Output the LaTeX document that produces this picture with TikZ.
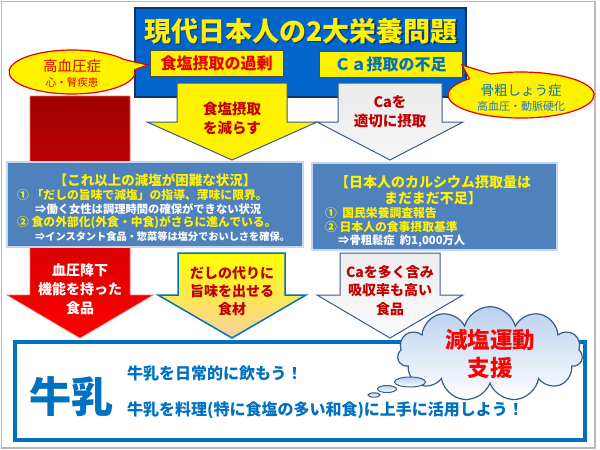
\documentclass[tikz,border=0pt]{standalone}
\usepackage{fontspec}
\setmainfont{Noto Sans CJK JP}
\usetikzlibrary{shapes.symbols}

\definecolor{titleblue}{RGB}{0,102,204}
\definecolor{navy}{RGB}{20,50,105}
\definecolor{edgeblue}{RGB}{56,93,138}
\definecolor{boxblue}{RGB}{79,129,189}
\definecolor{paleblue}{RGB}{198,214,236}
\definecolor{darkred}{RGB}{192,0,0}
\definecolor{txtred}{RGB}{230,0,0}
\definecolor{redtop}{RGB}{160,0,0}
\definecolor{milkblue}{RGB}{0,112,192}
\definecolor{lightblue}{RGB}{46,117,182}
\definecolor{peach}{RGB}{250,208,160}
\definecolor{cloudblue}{RGB}{185,208,238}

\begin{document}
\begin{tikzpicture}[x=1pt, y=-1pt,
  every node/.style={inner sep=0pt},
  arrowedge/.style={draw=edgeblue, line width=1pt, line join=miter},
  arrtxt/.style={font=\bfseries\fontsize{14.5}{19}\selectfont, align=center, text=darkred},
  subbox/.style={draw=gray!60!black, line width=1pt, fill=yellow, font=\bfseries\fontsize{16}{18}\selectfont},
  bluebox/.style={draw=paleblue, line width=1.5pt, fill=boxblue},
  boxhead/.style={font=\bfseries\fontsize{13.5}{16}\selectfont, text=yellow},
  boxitem/.style={anchor=west, font=\bfseries\fontsize{11.8}{14}\selectfont, text=yellow},
  boxnote/.style={anchor=west, font=\bfseries\fontsize{11.3}{14}\selectfont, text=white},
  milktxt/.style={anchor=west, font=\bfseries\fontsize{16}{18}\selectfont, text=milkblue},
  bubble/.style={draw=edgeblue, line width=1pt, top color=cloudblue, bottom color=white}]

  % frame
  \useasboundingbox (0,0) rectangle (600,450);
  \draw[gray!55, line width=1.2pt] (1.5,1.5) rectangle (595,448);

  % title box
  \draw[fill=titleblue, draw=navy, line width=1.5pt] (135,8) rectangle (466,97);
  \node[font=\bfseries\fontsize{27}{30}\selectfont, text=navy] at (302.5,32.5) {現代日本人の2大栄養問題};
  \node (title) [font=\bfseries\fontsize{27}{30}\selectfont, text=yellow] at (301,31) {現代日本人の2大栄養問題};
  \node (salt) [subbox, text=txtred, minimum width=133, minimum height=26] at (216.5,63) {食塩摂取の過剰};
  \node (calcium) [subbox, text=milkblue, minimum width=143, minimum height=26] at (390.5,64) {Ｃａ摂取の不足};

  % upper arrows
  \draw[arrowedge, fill=yellow] (177,83) -- (287,83) -- (287,122) -- (317,122) -- (232,160) -- (147,122) -- (177,122) -- cycle;
  \node (cutsalt) [arrtxt] at (232,118) {食塩摂取\\を減らす};
  \draw[arrowedge, top color=gray!16, bottom color=gray!8] (338,83) -- (442,83) -- (442,122) -- (463,122) -- (390,160) -- (317,122) -- (338,122) -- cycle;
  \node (getca) [arrtxt] at (390,112) {Caを\\適切に摂取};

  % callouts
  \draw[fill=yellow, draw=txtred, line width=1.2pt] (148,65) -- (134.7,69.7) arc[start angle=-6, end angle=325, x radius=63, y radius=22] -- cycle;
  \node (hyp) [font=\fontsize{14.5}{16}\selectfont, text=txtred] at (72,66) {高血圧症};
  \node (hypsub) [font=\fontsize{10.5}{12}\selectfont, text=txtred] at (72,83) {心・腎疾患};
  \draw[fill=yellow, draw=txtred, line width=1.2pt] (462,65) -- (491.3,74) arc[start angle=246, end angle=585, x radius=73, y radius=23] -- cycle;
  \node (osteo) [font=\fontsize{13.5}{15}\selectfont, text=milkblue] at (521,90) {骨粗しょう症};
  \node (osteosub) [font=\fontsize{11}{13}\selectfont, text=lightblue] at (521,106) {高血圧・動脈硬化};

  % lower arrows
  \draw[top color=redtop, bottom color=red, draw=red!60, line width=0.6pt] (30,96) -- (130,96) -- (130,295) -- (153,295) -- (80,338) -- (7,295) -- (30,295) -- cycle;
  \draw[draw=milkblue, line width=1.5pt, line join=miter, top color=yellow, bottom color=peach] (178,253) -- (285,253) -- (285,295) -- (306,295) -- (232,338) -- (158,295) -- (178,295) -- cycle;
  \draw[arrowedge, top color=gray!14, bottom color=gray!3] (340,253) -- (440,253) -- (440,295) -- (463,295) -- (390,338) -- (317,295) -- (340,295) -- cycle;
  \node (bpfood) [arrtxt, text=white, font=\bfseries\fontsize{14}{19}\selectfont] at (80,289) {血圧降下\\機能を持った\\食品};
  \node (umami) [arrtxt, font=\bfseries\fontsize{14}{18}\selectfont] at (232,291) {だしの代りに\\旨味を出せる\\食材};
  \node (cafood) [arrtxt, font=\bfseries\fontsize{14}{18.5}\selectfont] at (390,290.5) {Caを多く含み\\吸収率も高い\\食品};

  % situation boxes
  \draw[bluebox] (7,162) rectangle (303,247);
  \node (hardhead) [boxhead] at (155,180) {【これ以上の減塩が困難な状況】};
  \node (hard1) [boxitem] at (17,195) {①\ 「だしの旨味で減塩」の指導、薄味に限界。};
  \node (hard1n) [boxnote] at (35,209) {⇒働く女性は調理時間の確保ができない状況};
  \node (hard2) [boxitem] at (17,223) {②\ 食の外部化(外食・中食)がさらに進んでいる。};
  \node (hard2n) [boxnote, font=\bfseries\fontsize{10.2}{14}\selectfont] at (35,237) {⇒インスタント食品・惣菜等は塩分でおいしさを確保。};
  \draw[bluebox] (312,163) rectangle (557,250);
  \node (cahead) [boxhead, font=\bfseries\fontsize{14}{16}\selectfont, align=center] at (433,190) {【日本人のカルシウム摂取量は\\まだまだ不足】};
  \node (ca1) [boxitem] at (325,213) {①\ \ 国民栄養調査報告};
  \node (ca2) [boxitem] at (325,227) {②\ 日本人の食事摂取基準};
  \node (ca2n) [boxnote] at (338,241) {⇒骨粗鬆症\ \ 約1,000万人};

  % milk box
  \draw[draw=milkblue, line width=3.5pt, fill=white] (15,342) rectangle (585,440);
  \node (milk) [font=\bfseries\fontsize{42}{46}\selectfont, text=milkblue] at (71,397) {牛乳};
  \node (drink) [milktxt] at (127,373) {牛乳を日常的に飲もう！};
  \node (cook) [milktxt] at (127,410) {牛乳を料理(特に食塩の多い和食)に上手に活用しよう！};

  % thought cloud
  \node (campaign) [cloud, cloud puffs=11, cloud ignores aspect, minimum width=185, minimum height=72, draw=edgeblue, line width=1.2pt, top color=cloudblue, bottom color=white, font=\bfseries\fontsize{22.5}{28}\selectfont, text=red, align=center] at (490,354) {減塩運動\\支援};
  \draw[bubble] (410,382) ellipse [x radius=15.5, y radius=5];
  \draw[bubble] (387,389) ellipse [x radius=9.5, y radius=3.5];
  \draw[bubble] (374,395) ellipse [x radius=6, y radius=2.2];
\end{tikzpicture}
\end{document}
